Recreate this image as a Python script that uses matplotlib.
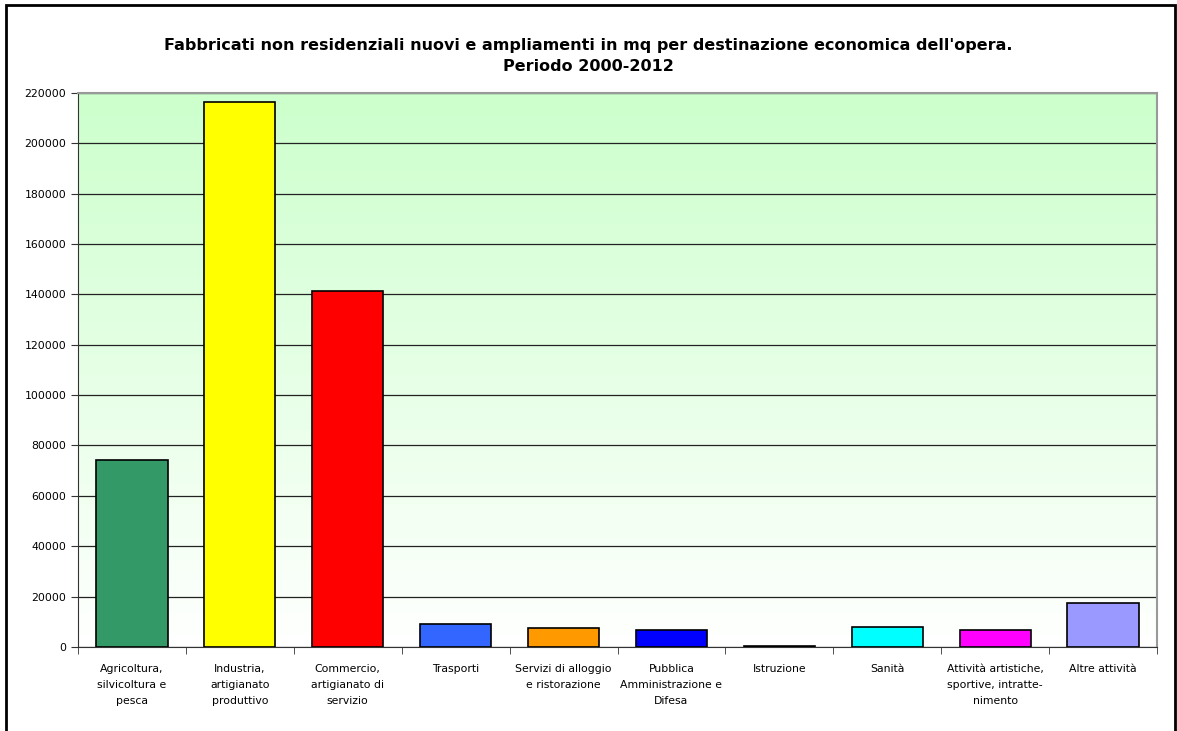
import matplotlib
matplotlib.use("Agg")
import matplotlib.pyplot as plt
from matplotlib.colors import LinearSegmentedColormap
from matplotlib.patches import Rectangle
import numpy as np

categorie = ["Agricoltura,\nsilvicoltura e\npesca",
             "Industria,\nartigianato\nproduttivo",
             "Commercio,\nartigianato di\nservizio",
             "Trasporti",
             "Servizi di alloggio\ne ristorazione",
             "Pubblica\nAmministrazione e\nDifesa",
             "Istruzione",
             "Sanità",
             "Attività artistiche,\nsportive, intratte-\nnimento",
             "Altre attività"]
mq = [74200, 216500, 141500, 9300, 7700, 6600, 500, 8100, 6600, 17500]
colori = ["#339966", "#FFFF00", "#FF0000", "#3366FF", "#FF9900",
          "#0000FF", "#000000", "#00FFFF", "#FF00FF", "#9999FF"]
yticks = list(range(0, 220001, 20000))

plt.rcParams['font.family'] = ['DejaVu Sans']

fig = plt.figure(figsize=(11.77, 7.31), dpi=100)
ax = fig.add_axes([0.0663, 0.115, 0.9167, 0.7578])

# sfondo sfumato: verde chiaro in alto, bianco in basso
sfondo = LinearSegmentedColormap.from_list("sf", ["#FFFFFF", "#CCFFCC"])
grad = np.linspace(0, 1, 256).reshape(-1, 1)
ax.imshow(grad, cmap=sfondo, origin="lower", aspect="auto",
          extent=[-0.5, len(mq) - 0.5, 0, 220000], zorder=0)

x = np.arange(len(mq))
ax.bar(x, mq, width=0.66, color=colori, edgecolor="black", linewidth=1.2, zorder=3)

ax.set_xlim(-0.5, len(mq) - 0.5)
ax.set_ylim(0, 220000)
ax.set_yticks(yticks)
ax.set_yticklabels([str(v) for v in yticks], fontsize=7.8)
ax.yaxis.grid(True, color="#222222", linewidth=0.9)
for gl in ax.get_ygridlines():
    gl.set_zorder(1)

ax.set_xticks(x)
ax.set_xticklabels(categorie, fontsize=7.8, linespacing=1.75)
ax.tick_params(axis="x", length=0, pad=12)
ax.set_xticks(np.arange(-0.5, len(mq), 1), minor=True)
ax.tick_params(axis="x", which="minor", length=5, color="#333333")
ax.tick_params(axis="y", length=5, color="#333333")

for lato in ["top", "right"]:
    ax.spines[lato].set_color("#999999")
    ax.spines[lato].set_linewidth(1.5)
for lato in ["left", "bottom"]:
    ax.spines[lato].set_color("#333333")

fig.text(0.5, 0.923, "Fabbricati non residenziali nuovi e ampliamenti in mq per destinazione economica dell'opera.\nPeriodo 2000-2012",
         ha="center", va="center", fontsize=11.5, fontweight="bold", linespacing=1.5)

# cornice del grafico
fig.patches.append(Rectangle((6 / 1177, -0.05), 1169 / 1177, 1 - 5 / 731 + 0.05,
                             transform=fig.transFigure, fill=False,
                             edgecolor="black", linewidth=2))

fig.savefig("out.png", dpi=100)
